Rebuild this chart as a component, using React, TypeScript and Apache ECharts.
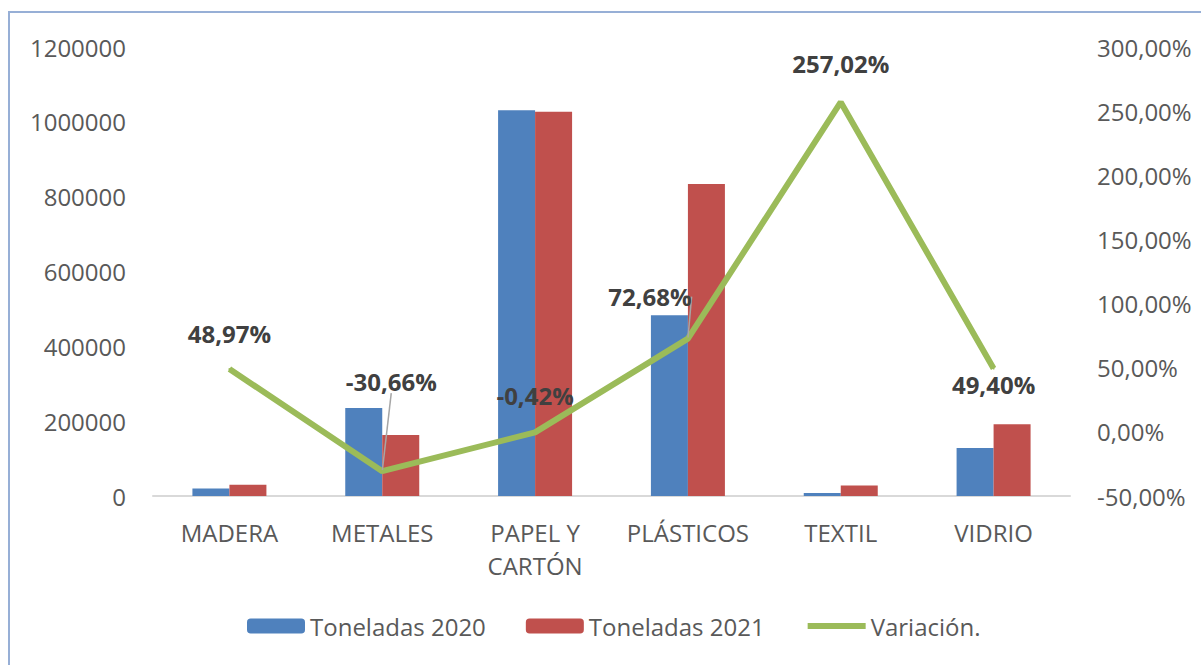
import React, { useEffect, useRef } from "react";
import * as echarts from "echarts";

const categories = ["MADERA", "METALES", "PAPEL Y\nCARTÓN", "PLÁSTICOS", "TEXTIL", "VIDRIO"];
const tons2020 = [20000, 235000, 1031000, 483000, 7800, 128300];
const tons2021 = [29800, 163000, 1026700, 834000, 27850, 191700];
const variation = [48.97, -30.66, -0.42, 72.68, 257.02, 49.4];
const leftTicks = { min: 0, max: 1200000, interval: 200000 };
const rightTicks = { min: -50, max: 300, interval: 50 };
// label offsets (dx, dy) relative to default "top" placement
const labelOffsets = [
  [0, -18],
  [9, -72],
  [0, -19],
  [-38, -24],
  [0, -21],
  [0, 34],
];
const withGuide = [false, true, false, true, false, false];

const FONT = "'Open Sans', 'Liberation Sans', sans-serif";

export default function App() {
  const ref = useRef<HTMLDivElement>(null);
  useEffect(() => {
    if (!ref.current) return;
    const chart = echarts.init(ref.current, undefined, { renderer: "svg" });
    const fmtPct = (v: number) => v.toFixed(2).replace(".", ",") + "%";
    chart.setOption({
      animation: false,
      textStyle: { fontFamily: FONT },
      graphic: [
        {
          type: "rect",
          shape: { x: 9, y: 12, width: 1400, height: 900 },
          style: { fill: "none", stroke: "#97afd6", lineWidth: 2 },
          silent: true,
        },
      ],
      grid: { left: 153, right: 131, top: 47, bottom: 169 },
      legend: {
        left: 242,
        top: 609,
        itemGap: 40,
        itemWidth: 58,
        itemHeight: 15,
        textStyle: { fontSize: 24, color: "#595959", fontFamily: FONT },
        data: [
          "Toneladas 2020",
          "Toneladas 2021",
          {
            name: "Variación.",
            itemStyle: { color: "rgba(0,0,0,0)", borderWidth: 0 },
            lineStyle: { color: "#9bbb59", width: 6 },
          },
        ],
      },
      xAxis: {
        type: "category",
        data: categories,
        axisLine: { lineStyle: { color: "#d9d9d9", width: 2 } },
        axisTick: { show: false },
        axisLabel: {
          fontSize: 24,
          color: "#595959",
          lineHeight: 33,
          margin: 20,
          interval: 0,
          fontFamily: FONT,
        },
      },
      yAxis: [
        {
          type: "value",
          ...leftTicks,
          splitLine: { show: false },
          axisLine: { show: false },
          axisTick: { show: false },
          axisLabel: {
            fontSize: 24,
            color: "#595959",
            margin: 27,
            fontFamily: FONT,
            formatter: (v: number) => String(v),
          },
        },
        {
          type: "value",
          ...rightTicks,
          position: "right",
          splitLine: { show: false },
          axisLine: { show: false },
          axisTick: { show: false },
          axisLabel: {
            fontSize: 24,
            color: "#595959",
            margin: 27,
            fontFamily: FONT,
            formatter: (v: number) => fmtPct(v),
          },
        },
      ],
      series: [
        {
          name: "Toneladas 2020",
          type: "bar",
          data: tons2020,
          barWidth: 37,
          barGap: "0%",
          itemStyle: { color: "#4f81bd" },
        },
        {
          name: "Toneladas 2021",
          type: "bar",
          data: tons2021,
          barWidth: 37,
          barGap: "0%",
          itemStyle: { color: "#c0504d" },
        },
        {
          name: "Variación.",
          type: "line",
          yAxisIndex: 1,
          z: 5,
          symbol: "circle",
          symbolSize: 2,
          lineStyle: { color: "#9bbb59", width: 6 },
          itemStyle: { color: "#9bbb59" },
          data: variation.map((v, i) => ({
            value: v,
            labelLine: { show: withGuide[i] },
          })),
          label: {
            show: true,
            position: "top",
            distance: 5,
            fontSize: 24,
            fontWeight: "bold",
            color: "#404040",
            fontFamily: FONT,
            formatter: (p: any) => fmtPct(p.value),
          },
          labelLine: {
            show: false,
            lineStyle: { color: "#a6a6a6", width: 1.5 },
          },
          labelLayout: (p: any) => ({
            dx: labelOffsets[p.dataIndex][0],
            dy: labelOffsets[p.dataIndex][1],
          }),
        },
      ],
    });
    return () => chart.dispose();
  }, []);
  return (
    <div
      ref={ref}
      style={{ position: "fixed", left: 0, top: 0, width: 1201, height: 665, background: "#fff" }}
    />
  );
}
